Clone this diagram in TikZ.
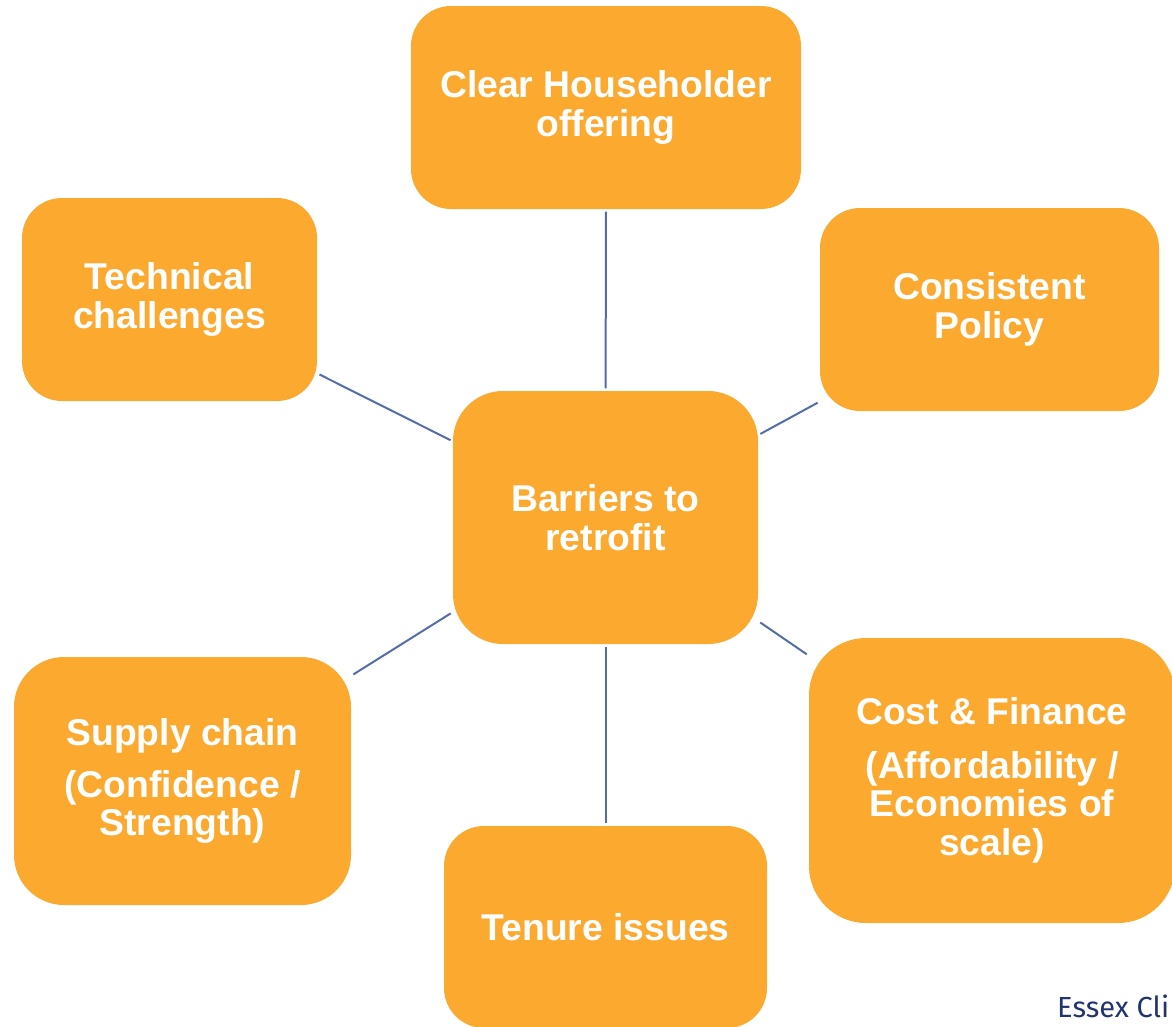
\documentclass[tikz,border=0pt]{standalone}
\usepackage{fontspec}
\setmainfont{Liberation Sans}
\newfontfamily\footfont{Fira Sans}
\definecolor{boxorange}{RGB}{252,169,48}
\definecolor{linkblue}{RGB}{84,108,168}
\definecolor{footnavy}{RGB}{34,52,110}
\begin{document}
\begin{tikzpicture}[x=1pt,y=-1pt,
  barrier/.style={fill=boxorange, draw=none, text=white, align=center,
    font=\fontsize{37.3}{38.5}\selectfont\bfseries, inner sep=0pt},
  link/.style={draw=linkblue, line width=2pt, shorten >=2.5pt, shorten <=2.5pt}]
\useasboundingbox (0,0) rectangle (1172,1026);
\clip (0,0) rectangle (1172,1026);
\node[barrier, minimum width=390pt, minimum height=203pt, rounded corners=40pt] (clear) at (606,107.5) {Clear Householder\\offering};
\node[barrier, minimum width=295pt, minimum height=203pt, rounded corners=40pt] (tech) at (169.5,299.5) {Technical\\challenges};
\node[barrier, minimum width=339pt, minimum height=203pt, rounded corners=40pt] (policy) at (989.5,309.5) {Consistent\\Policy};
\node[barrier, minimum width=305pt, minimum height=253pt, rounded corners=50pt] (centre) at (605.5,517.5) {Barriers to\\retrofit};
\node[barrier, minimum width=337pt, minimum height=248pt, rounded corners=50pt] (supply) at (182.5,781) {Supply chain\\[13pt](Confidence /\\Strength)};
\node[barrier, minimum width=323pt, minimum height=202pt, rounded corners=40pt] (tenure) at (605.5,927) {Tenure issues};
\node[barrier, minimum width=366pt, minimum height=285pt, rounded corners=57pt] (cost) at (992,780.5) {Cost \& Finance\\[15pt](Affordability /\\Economies of\\scale)};
\draw[link] (clear) -- (centre);
\draw[link] (tech) -- (centre);
\draw[link] (policy) -- (centre);
\draw[link] (supply) -- (centre);
\draw[link] (cost) -- (centre);
\draw[link] (tenure) -- (centre);
\node[anchor=base west, inner sep=0pt, text=footnavy, font=\footfont\fontsize{29}{32}\selectfont] (foot) at (1057,1017) {Essex Cli};
\end{tikzpicture}
\end{document}
